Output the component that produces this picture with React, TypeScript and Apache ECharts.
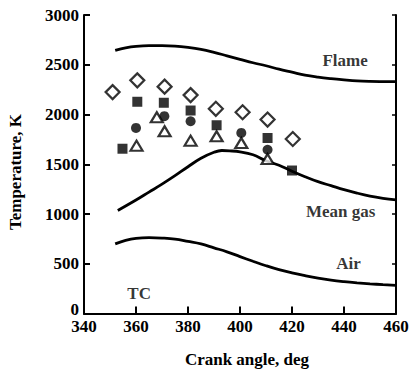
import React, { useEffect, useRef } from "react";
import * as echarts from "echarts";

// Tick labels
const xTicks = [340, 360, 380, 400, 420, 440, 460];
const yTicks = [0, 500, 1000, 1500, 2000, 2500, 3000];

// Curves: [crank angle (deg), temperature (K)]
const flame: [number, number][] = [
  [352, 2645], [356, 2670], [360, 2685], [365, 2692], [370, 2692], [375, 2688],
  [380, 2675], [385, 2655], [390, 2625], [395, 2590], [400, 2555], [405, 2520],
  [410, 2490], [415, 2455], [420, 2425], [425, 2395], [430, 2375], [435, 2360],
  [440, 2348], [445, 2338], [450, 2333], [455, 2331], [460, 2330],
];
const meanGas: [number, number][] = [
  [353, 1035], [360, 1140], [365, 1220], [370, 1300], [375, 1385], [380, 1475],
  [385, 1560], [390, 1620], [393, 1638], [396, 1635], [400, 1625], [405, 1595],
  [410, 1535], [415, 1490], [420, 1430], [425, 1375], [430, 1325], [435, 1285],
  [440, 1245], [445, 1210], [450, 1180], [455, 1158], [460, 1142],
];
const air: [number, number][] = [
  [352, 700], [356, 735], [360, 755], [365, 762], [370, 758], [375, 748],
  [380, 725], [385, 700], [390, 660], [395, 620], [400, 572], [405, 525],
  [410, 480], [415, 440], [420, 408], [425, 380], [430, 355], [435, 335],
  [440, 320], [445, 308], [450, 298], [455, 290], [460, 283],
];

// Measured points
const diamonds: [number, number][] = [
  [351, 2225], [360.5, 2343], [371, 2280], [381, 2195], [390.7, 2057],
  [401, 2023], [410.6, 1949], [420.3, 1754],
];
const squares: [number, number][] = [
  [354.8, 1656], [360.5, 2128], [370.7, 2118], [381, 2040], [391, 1892],
  [410.6, 1764], [420, 1437],
];
const circles: [number, number][] = [
  [360, 1865], [370.9, 1983], [381, 1932], [400.5, 1815], [410.6, 1646],
];
const triangles: [number, number][] = [
  [360.2, 1687], [368, 1973], [371, 1831], [381, 1737], [391, 1781],
  [400.5, 1714], [410.6, 1552],
];

// Annotations
const noteNames = ["Flame", "Mean gas", "Air", "TC"];
const notePos: [number, number][] = [
  [440.4, 2538], [438.7, 1023], [441.7, 505], [361.2, 203],
];

const FONT = "'Liberation Serif', 'Times New Roman', serif";

export default function App() {
  const ref = useRef<HTMLDivElement>(null);
  useEffect(() => {
    document.body.style.margin = "0";
    const chart = echarts.init(ref.current!, null, { renderer: "svg" });
    const text = { fontFamily: FONT, fontWeight: "bold" as const, fontSize: 17, color: "#000" };
    const lineSeries = (name: string, data: [number, number][]) => ({
      name,
      type: "line",
      data,
      smooth: 0.4,
      symbol: "none",
      lineStyle: { color: "#000", width: 2.8 },
      z: 2,
    });
    chart.setOption({
      animation: false,
      backgroundColor: "#fff",
      grid: {
        left: 84, right: 16, top: 15, bottom: 56.5,
        containLabel: false, outerBoundsMode: "none",
      },
      xAxis: [
        {
          type: "value", min: xTicks[0], max: xTicks[xTicks.length - 1], interval: 20,
          axisLine: { show: true, lineStyle: { color: "#000", width: 2 } },
          axisTick: { show: true, inside: true, length: 7, lineStyle: { color: "#000", width: 2 } },
          axisLabel: { ...text, margin: 7, lineHeight: 11, formatter: (v: number) => String(v) },
          splitLine: { show: false },
        },
        {
          type: "value", position: "top", min: xTicks[0], max: xTicks[xTicks.length - 1], interval: 20,
          axisLine: { show: true, lineStyle: { color: "#000", width: 1.5 } },
          axisTick: { show: false },
          axisLabel: { show: false },
          splitLine: { show: false },
        },
      ],
      yAxis: [
        {
          type: "value", min: yTicks[0], max: yTicks[yTicks.length - 1], interval: 500,
          axisLine: { show: true, lineStyle: { color: "#000", width: 2 } },
          axisTick: { show: true, inside: true, length: 6, lineStyle: { color: "#000", width: 2 } },
          axisLabel: {
            ...text, margin: 5, lineHeight: 11, showMinLabel: false,
            formatter: (v: number) => (v === yTicks[0] ? "" : String(v)),
          },
          splitLine: { show: false },
        },
        {
          type: "value", position: "right", min: yTicks[0], max: yTicks[yTicks.length - 1], interval: 500,
          axisLine: { show: true, lineStyle: { color: "#000", width: 2 } },
          axisTick: { show: true, inside: true, length: 4, lineStyle: { color: "#000", width: 1.5 } },
          axisLabel: { show: false },
          splitLine: { show: false },
        },
      ],
      graphic: [
        {
          type: "text", x: 15, y: 172, rotation: Math.PI / 2,
          style: { text: "Temperature, K", ...text, fill: "#000", align: "center", verticalAlign: "middle" },
        },
        {
          type: "text", x: 247, y: 359,
          style: { text: "Crank angle, deg", ...text, fill: "#000", align: "center", verticalAlign: "middle" },
        },
        {
          type: "text", x: 79, y: 309,
          style: { text: String(yTicks[0]), ...text, fill: "#000", align: "right", verticalAlign: "middle" },
        },
      ],
      series: [
        lineSeries("Flame", flame),
        lineSeries("Mean gas", meanGas),
        lineSeries("Air", air),
        {
          type: "scatter", data: diamonds, symbol: "diamond", symbolSize: 14,
          itemStyle: { color: "#fff", borderColor: "#000", borderWidth: 2.2 }, z: 3,
        },
        {
          type: "scatter", data: squares, symbol: "rect", symbolSize: 10,
          itemStyle: { color: "#000" }, z: 3,
        },
        {
          type: "scatter", data: circles, symbol: "circle", symbolSize: 10,
          itemStyle: { color: "#000" }, z: 3,
        },
        {
          type: "scatter", data: triangles, symbol: "triangle", symbolSize: [12, 10],
          itemStyle: { color: "#fff", borderColor: "#000", borderWidth: 2.2 }, z: 4,
        },
        {
          type: "scatter", symbolSize: 1,
          data: notePos.map((p, i) => ({ value: p, name: noteNames[i] })),
          itemStyle: { color: "rgba(0,0,0,0)" },
          label: {
            show: true, position: "inside", formatter: (p: any) => p.name,
            ...text, align: "center", verticalAlign: "middle",
          },
          z: 5,
        },
      ],
    });
    return () => chart.dispose();
  }, []);
  return <div ref={ref} style={{ width: 412, height: 370 }} />;
}
